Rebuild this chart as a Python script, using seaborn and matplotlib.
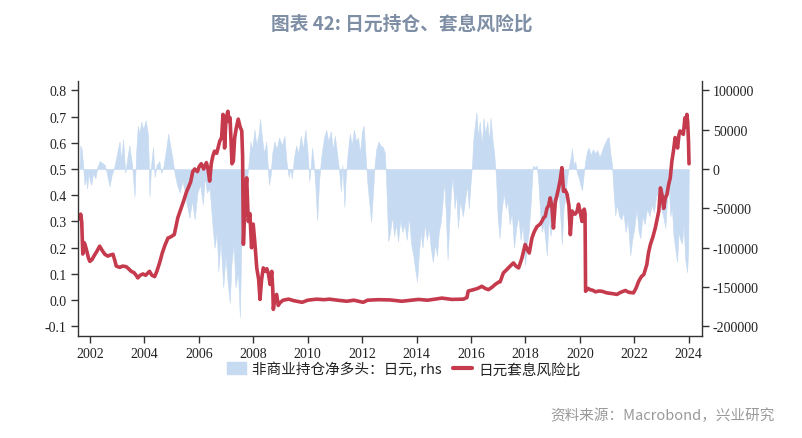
import matplotlib
matplotlib.use("Agg")
import matplotlib.pyplot as plt
import seaborn as sns
import pandas as pd
from matplotlib.patches import Patch
from matplotlib.lines import Line2D

# ---------------- data ----------------
carry_years = [2001.64, 2001.66, 2001.70, 2001.74, 2001.78, 2001.82, 2001.88, 2001.95, 2002.00, 2002.08,
               2002.16, 2002.25, 2002.36, 2002.45, 2002.55, 2002.66, 2002.75, 2002.85, 2002.92, 2002.97,
               2003.10, 2003.20, 2003.33, 2003.42, 2003.52, 2003.62, 2003.70, 2003.76, 2003.85, 2003.95,
               2004.05, 2004.19, 2004.28, 2004.38, 2004.46, 2004.56, 2004.66, 2004.76, 2004.87, 2004.95,
               2005.10, 2005.18, 2005.23, 2005.35, 2005.45, 2005.54, 2005.62, 2005.70, 2005.78, 2005.85,
               2005.95, 2006.02, 2006.09, 2006.18, 2006.28, 2006.34, 2006.40, 2006.46, 2006.52, 2006.58,
               2006.66, 2006.77, 2006.84, 2006.89, 2006.93, 2006.95, 2007.00, 2007.07, 2007.12, 2007.15,
               2007.22, 2007.27, 2007.32, 2007.38, 2007.45, 2007.52, 2007.58, 2007.61, 2007.64, 2007.70,
               2007.76, 2007.82, 2007.88, 2007.94, 2008.00, 2008.06, 2008.13, 2008.20, 2008.25, 2008.31,
               2008.37, 2008.44, 2008.50, 2008.56, 2008.62, 2008.68, 2008.72, 2008.74, 2008.80, 2008.86,
               2008.92, 2008.98, 2009.10, 2009.30, 2009.50, 2009.80, 2010.00, 2010.33, 2010.60, 2010.80,
               2011.10, 2011.44, 2011.70, 2012.04, 2012.20, 2012.60, 2013.03, 2013.46, 2013.80, 2014.07,
               2014.40, 2014.68, 2014.93, 2015.30, 2015.72, 2015.85, 2015.90, 2016.09, 2016.25, 2016.40,
               2016.52, 2016.64, 2016.78, 2016.89, 2017.00, 2017.07, 2017.19, 2017.30, 2017.44, 2017.56,
               2017.65, 2017.75, 2017.87, 2017.99, 2018.08, 2018.14, 2018.24, 2018.32, 2018.42, 2018.54,
               2018.60, 2018.67, 2018.73, 2018.79, 2018.85, 2018.91, 2018.97, 2019.03, 2019.10, 2019.16,
               2019.22, 2019.28, 2019.34, 2019.40, 2019.46, 2019.53, 2019.60, 2019.65, 2019.71, 2019.77,
               2019.83, 2019.90, 2019.95, 2020.02, 2020.08, 2020.12, 2020.16, 2020.19, 2020.21, 2020.30,
               2020.38, 2020.47, 2020.57, 2020.70, 2020.81, 2020.99, 2021.20, 2021.36, 2021.50, 2021.67,
               2021.80, 2021.97, 2022.06, 2022.16, 2022.26, 2022.35, 2022.46, 2022.52, 2022.59, 2022.68,
               2022.77, 2022.84, 2022.90, 2022.96, 2023.02, 2023.08, 2023.14, 2023.20, 2023.26, 2023.32,
               2023.38, 2023.44, 2023.50, 2023.55, 2023.59, 2023.64, 2023.68, 2023.74, 2023.80, 2023.86,
               2023.90, 2023.93, 2023.96, 2023.99, 2024.01]
carry_ratio = [0.31, 0.328, 0.30, 0.176, 0.22, 0.213, 0.19, 0.16, 0.148, 0.155,
               0.17, 0.185, 0.206, 0.19, 0.175, 0.168, 0.172, 0.175, 0.15, 0.13,
               0.125, 0.13, 0.128, 0.12, 0.11, 0.105, 0.095, 0.085, 0.095, 0.10,
               0.095, 0.11, 0.095, 0.09, 0.11, 0.142, 0.18, 0.21, 0.237, 0.24,
               0.25, 0.29, 0.314, 0.35, 0.38, 0.41, 0.43, 0.45, 0.49, 0.50,
               0.49, 0.51, 0.52, 0.50, 0.524, 0.50, 0.454, 0.52, 0.55, 0.568,
               0.56, 0.606, 0.62, 0.708, 0.66, 0.58, 0.69, 0.72, 0.68, 0.695,
               0.52, 0.53, 0.62, 0.657, 0.69, 0.66, 0.645, 0.55, 0.213, 0.38,
               0.466, 0.30, 0.33, 0.20, 0.29, 0.22, 0.123, 0.08, 0.003, 0.08,
               0.123, 0.11, 0.12, 0.10, 0.06, 0.11, 0.04, -0.035, 0.01, 0.022,
               -0.02, -0.01, 0.0, 0.004, -0.002, -0.008, 0.0, 0.004, 0.002, 0.004,
               0.0, -0.004, 0.0, -0.008, 0.0, 0.002, 0.001, -0.004, 0.0, 0.003,
               0.0, 0.004, 0.008, 0.003, 0.004, 0.01, 0.035, 0.04, 0.045, 0.053,
               0.045, 0.04, 0.05, 0.06, 0.068, 0.07, 0.104, 0.115, 0.13, 0.142,
               0.13, 0.123, 0.16, 0.212, 0.19, 0.18, 0.237, 0.26, 0.28, 0.29,
               0.30, 0.314, 0.32, 0.35, 0.36, 0.39, 0.36, 0.275, 0.377, 0.40,
               0.428, 0.46, 0.505, 0.415, 0.42, 0.404, 0.36, 0.25, 0.34, 0.33,
               0.328, 0.34, 0.366, 0.33, 0.30, 0.34, 0.347, 0.33, 0.034, 0.045,
               0.04, 0.038, 0.032, 0.035, 0.034, 0.028, 0.025, 0.022, 0.03, 0.037,
               0.03, 0.028, 0.045, 0.072, 0.09, 0.098, 0.136, 0.18, 0.212, 0.24,
               0.275, 0.31, 0.34, 0.428, 0.40, 0.35, 0.39, 0.403, 0.44, 0.466,
               0.53, 0.57, 0.62, 0.60, 0.58, 0.63, 0.645, 0.64, 0.632, 0.695,
               0.66, 0.708, 0.68, 0.606, 0.52]

pos_years = [2001.62, 2001.65, 2001.70, 2001.75, 2001.80, 2001.85, 2001.90, 2001.95, 2002.00, 2002.05,
             2002.12, 2002.20, 2002.28, 2002.36, 2002.45, 2002.55, 2002.62, 2002.72, 2002.80, 2002.90,
             2003.00, 2003.09, 2003.15, 2003.22, 2003.30, 2003.38, 2003.45, 2003.55, 2003.64, 2003.70,
             2003.76, 2003.82, 2003.89, 2003.96, 2004.05, 2004.13, 2004.17, 2004.19, 2004.25, 2004.32,
             2004.38, 2004.45, 2004.55, 2004.62, 2004.70, 2004.80, 2004.88, 2004.95, 2005.05, 2005.11,
             2005.20, 2005.30, 2005.40, 2005.48, 2005.56, 2005.66, 2005.75, 2005.85, 2005.95, 2006.05,
             2006.15, 2006.22, 2006.30, 2006.40, 2006.50, 2006.58, 2006.66, 2006.72, 2006.80, 2006.90,
             2006.98, 2007.05, 2007.14, 2007.20, 2007.28, 2007.35, 2007.44, 2007.51, 2007.56, 2007.62,
             2007.70, 2007.78, 2007.84, 2007.90, 2007.96, 2008.05, 2008.12, 2008.20, 2008.25, 2008.32,
             2008.40, 2008.48, 2008.53, 2008.58, 2008.64, 2008.70, 2008.78, 2008.86, 2008.95, 2009.05,
             2009.15, 2009.22, 2009.30, 2009.36, 2009.42, 2009.50, 2009.58, 2009.66, 2009.75, 2009.82,
             2009.92, 2010.00, 2010.06, 2010.12, 2010.16, 2010.22, 2010.28, 2010.35, 2010.42, 2010.50,
             2010.60, 2010.68, 2010.76, 2010.85, 2010.92, 2011.00, 2011.08, 2011.15, 2011.22, 2011.28,
             2011.35, 2011.40, 2011.47, 2011.55, 2011.62, 2011.70, 2011.78, 2011.85, 2011.92, 2012.00,
             2012.06, 2012.12, 2012.20, 2012.27, 2012.33, 2012.40, 2012.46, 2012.52, 2012.60, 2012.68,
             2012.76, 2012.84, 2012.90, 2012.96, 2013.03, 2013.10, 2013.18, 2013.25, 2013.32, 2013.40,
             2013.48, 2013.56, 2013.64, 2013.72, 2013.80, 2013.88, 2013.96, 2014.02, 2014.08, 2014.15,
             2014.22, 2014.30, 2014.38, 2014.45, 2014.52, 2014.60, 2014.68, 2014.75, 2014.82, 2014.90,
             2014.96, 2015.02, 2015.08, 2015.14, 2015.20, 2015.26, 2015.32, 2015.40, 2015.46, 2015.52,
             2015.60, 2015.70, 2015.78, 2015.86, 2015.92, 2015.98, 2016.04, 2016.08, 2016.14, 2016.20,
             2016.26, 2016.32, 2016.40, 2016.46, 2016.52, 2016.60, 2016.66, 2016.72, 2016.78, 2016.85,
             2016.92, 2016.98, 2017.05, 2017.12, 2017.20, 2017.28, 2017.34, 2017.42, 2017.50, 2017.58,
             2017.66, 2017.74, 2017.82, 2017.90, 2017.98, 2018.06, 2018.12, 2018.20, 2018.27, 2018.35,
             2018.42, 2018.48, 2018.54, 2018.60, 2018.67, 2018.79, 2018.85, 2018.92, 2019.03, 2019.12,
             2019.22, 2019.28, 2019.34, 2019.40, 2019.46, 2019.52, 2019.58, 2019.65, 2019.71, 2019.77,
             2019.83, 2019.89, 2019.95, 2020.02, 2020.08, 2020.16, 2020.22, 2020.26, 2020.32, 2020.40,
             2020.48, 2020.56, 2020.64, 2020.72, 2020.80, 2020.88, 2020.95, 2021.02, 2021.06, 2021.12,
             2021.18, 2021.24, 2021.30, 2021.36, 2021.44, 2021.52, 2021.60, 2021.68, 2021.76, 2021.85,
             2021.92, 2022.00, 2022.08, 2022.16, 2022.22, 2022.30, 2022.38, 2022.47, 2022.56, 2022.64,
             2022.72, 2022.80, 2022.90, 2022.98, 2023.06, 2023.14, 2023.20, 2023.26, 2023.32, 2023.38,
             2023.44, 2023.50, 2023.57, 2023.63, 2023.69, 2023.75, 2023.81, 2023.87, 2023.94, 2023.98,
             2024.00]
net_long = [0, 30000, 25000, 5000, -20000, -10000, -25000, -5000, -15000, -20000,
            -5000, -12000, 3000, 10000, 8000, 5000, -5000, -22000, -8000, 3000,
            20000, 35000, 10000, 38000, -5000, 15000, 30000, 5000, -35000, 20000,
            55000, 45000, 60000, 50000, 62000, 45000, 0, -35000, 5000, 28000,
            -10000, 5000, 10000, -5000, 3000, 25000, 45000, 30000, 10000, -5000,
            -20000, -30000, -15000, -28000, -45000, -62000, -40000, -64000, -30000, -20000,
            -45000, -10000, -30000, -25000, -70000, -100000, -80000, -130000, -90000, -150000,
            -110000, -140000, -170000, -120000, -95000, -150000, -130000, -188000, -100000, -70000,
            -40000, -10000, 10000, 35000, 25000, 50000, 30000, 45000, 64000, 40000,
            20000, 35000, 5000, -20000, -8000, 20000, 35000, 25000, 40000, 30000,
            42000, 10000, -10000, 0, -12000, 15000, 30000, 20000, 42000, 25000,
            50000, 20000, -15000, 5000, 27000, 10000, -20000, -65000, -15000, 15000,
            40000, 50000, 35000, 48000, 25000, 42000, 20000, 0, -28000, 5000,
            -48000, -10000, 20000, 45000, 30000, 50000, 35000, 40000, 20000, 48000,
            55000, 20000, -20000, -45000, -67000, -30000, 5000, 25000, 35000, 30000,
            28000, 20000, -30000, -92000, -80000, -60000, -85000, -70000, -92000, -65000,
            -80000, -70000, -90000, -60000, -95000, -110000, -130000, -143000, -110000, -80000,
            -100000, -70000, -90000, -75000, -100000, -118000, -95000, -110000, -80000, -65000,
            -40000, -16000, -60000, -115000, -70000, -30000, -10000, -50000, -30000, -75000,
            -40000, -60000, -40000, -20000, -50000, -20000, 5000, 35000, 55000, 72000,
            40000, 60000, 30000, 65000, 45000, 60000, 35000, 65000, 40000, 20000,
            -10000, -60000, -88000, -55000, -30000, -50000, -40000, -70000, -55000, -100000,
            -75000, -60000, -90000, -70000, -122000, -95000, -80000, -40000, 4000, 2000,
            4000, -20000, -55000, -80000, -70000, -110000, -60000, -85000, -59000, -45000,
            -30000, -60000, -96000, -50000, -38000, -15000, 0, 12000, 26000, 5000,
            10000, -5000, -10000, -20000, -27000, 0, 15000, 22000, 27000, 18000,
            25000, 20000, 24000, 15000, 22000, 30000, 35000, 40000, 40000, 20000,
            5000, -30000, -59000, -45000, -60000, -64000, -55000, -80000, -64000, -110000,
            -90000, -75000, -50000, -80000, -88000, -60000, -70000, -50000, -60000, -45000,
            -55000, -35000, -27000, -50000, -60000, -75000, -40000, -15000, -60000, -49000,
            -85000, -100000, -118000, -80000, -90000, -95000, -70000, -115000, -131000, -100000,
            0]

x_ticks = list(range(2002, 2025, 2))
left_ticks = [-0.1, 0.0, 0.1, 0.2, 0.3, 0.4, 0.5, 0.6, 0.7, 0.8]
right_ticks = [-200000, -150000, -100000, -50000, 0, 50000, 100000]

title_text = "图表 42: 日元持仓、套息风险比"
label_pos = "非商业持仓净多头：日元, rhs"
label_carry = "日元套息风险比"
source_text = "资料来源：Macrobond，兴业研究"

# ---------------- style ----------------
sns.set_theme(style="white")
plt.rcParams['font.family'] = ['Liberation Serif', 'Noto Sans CJK SC', 'DejaVu Sans']

red = "#C53A4C"
blue = "#C6DAF1"

carry_df = pd.DataFrame({"year": carry_years, "ratio": carry_ratio})

fig = plt.figure(figsize=(8.03, 4.39), dpi=100)
ax = fig.add_axes([0.097, 0.232, 0.777, 0.581])
ax2 = ax.twinx()

ax2.fill_between(pos_years, 0, net_long, color=blue, linewidth=0.4, edgecolor=blue)
sns.lineplot(data=carry_df, x="year", y="ratio", ax=ax, color=red, linewidth=2.6, legend=False)

ax.set_zorder(ax2.get_zorder() + 1)
ax.patch.set_visible(False)

ax.set_xlim(2001.56, 2024.48)
ax.set_ylim(-0.137, 0.835)
ax2.set_ylim((-0.137 - 0.5) * 50000 / 0.15, (0.835 - 0.5) * 50000 / 0.15)

ax.set_xticks(x_ticks)
ax.set_xticklabels([str(t) for t in x_ticks])
ax.set_yticks(left_ticks)
ax.set_yticklabels([f"{t:.1f}" for t in left_ticks])
ax2.set_yticks(right_ticks)
ax2.set_yticklabels([f"{t}" for t in right_ticks])
ax.set_xlabel("")
ax.set_ylabel("")

for a in (ax, ax2):
    a.spines["top"].set_visible(False)
    for s in ("left", "right", "bottom"):
        a.spines[s].set_color("#333333")
        a.spines[s].set_linewidth(1.0)
ax.spines["right"].set_visible(False)
ax2.spines["left"].set_visible(False)
ax2.spines["bottom"].set_visible(False)

ax.tick_params(axis="both", which="major", direction="out", length=5, width=1, color="#333333",
               labelsize=10, labelcolor="#222222", left=True, bottom=True, pad=3)
ax2.tick_params(axis="y", direction="out", length=5, width=1, color="#333333",
                labelsize=10, labelcolor="#222222", right=True, pad=3)
ax.grid(False)
ax2.grid(False)

fig.text(0.5, 0.945, title_text, ha="center", va="center", fontsize=13.5, fontweight="bold",
         color="#7E8EA5", family=["Noto Sans CJK SC", "DejaVu Sans"])

handles = [Patch(facecolor=blue, edgecolor=blue), Line2D([0], [0], color=red, linewidth=3)]
leg = fig.legend(handles, [label_pos, label_carry], loc="center", bbox_to_anchor=(0.503, 0.158),
                 ncol=2, frameon=False, handlelength=1.3, handleheight=0.9,
                 columnspacing=0.8, handletextpad=0.4,
                 prop={"family": ["Noto Sans CJK SC", "DejaVu Sans"], "size": 10.5, "weight": "light"})
leg.legend_handles[1].set_linewidth(3)
for t in leg.get_texts():
    t.set_color("#222222")

fig.text(0.965, 0.052, source_text, ha="right", va="center", fontsize=10.5, color="#999999",
         family=["Noto Sans CJK SC", "DejaVu Sans"])

fig.savefig("out.png", dpi=100)
